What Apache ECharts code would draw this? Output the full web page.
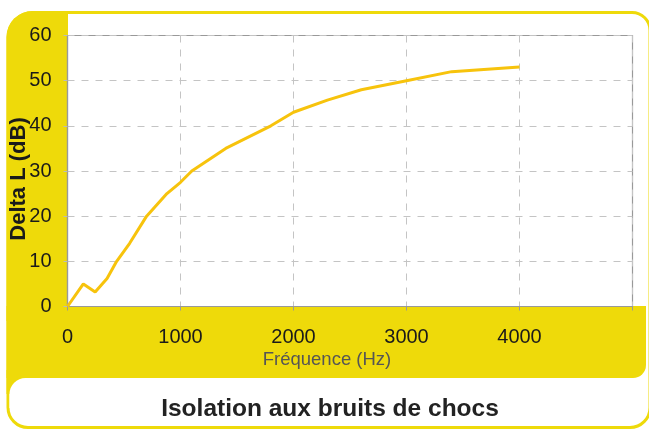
<!DOCTYPE html>
<html>
<head>
<meta charset="utf-8">
<script src="https://cdn.jsdelivr.net/npm/echarts@6/dist/echarts.min.js"></script>
<style>
html,body{margin:0;padding:0;background:#fff;}
#chart{width:649px;height:430px;}
</style>
</head>
<body>
<div id="chart"></div>
<script>
const frequencies = [0, 140, 245, 350, 435, 550, 700, 880, 1000, 1100, 1400, 1800, 2000, 2300, 2600, 3000, 3400, 4000];
const deltaL = [0, 5, 3.2, 6.2, 10, 14, 20, 25, 27.5, 30, 35, 40, 43, 45.7, 48, 50, 52, 53];
const xTicks = [0, 1000, 2000, 3000, 4000];
const titleText = 'Isolation aux bruits de chocs';
const xName = 'Fréquence (Hz)';
const yName = 'Delta L (dB)';

const YEL = '#EEDA0A';
const chart = echarts.init(document.getElementById('chart'));
const font = 'Liberation Sans, Arial, sans-serif';

chart.setOption({
  animation: false,
  backgroundColor: '#fff',
  graphic: [
    { type: 'rect', z: -10, shape: { x: 8, y: 12.5, width: 642, height: 415, r: [25, 18, 20, 20] },
      style: { fill: '#fff', stroke: YEL, lineWidth: 3 } },
    { type: 'rect', z: -9, shape: { x: 6.5, y: 11, width: 61.5, height: 310, r: [26, 0, 0, 0] },
      style: { fill: YEL } },
    { type: 'rect', z: -9, shape: { x: 6.5, y: 306, width: 639.5, height: 72, r: [0, 0, 13, 0] },
      style: { fill: YEL } },
    { type: 'rect', z: -9, shape: { x: 6.5, y: 370, width: 24, height: 24 },
      style: { fill: YEL } },
    { type: 'rect', z: -8, shape: { x: 9.5, y: 378, width: 40, height: 30, r: [16, 0, 0, 0] },
      style: { fill: '#fff' } },
    { type: 'rect', z: -8, shape: { x: 67.5, y: 35.5, width: 565, height: 271 },
      style: { fill: '#fff' } },
    { type: 'text', z: 10, x: 330, y: 409,
      style: { text: titleText, font: 'bold 24.5px ' + font, fill: '#222', textAlign: 'center', textVerticalAlign: 'middle' } }
  ],
  grid: { left: 67.5, right: 16.5, top: 35.5, bottom: 123.5, outerBoundsMode: 'none', containLabel: false,
    show: true, borderColor: '#999', borderWidth: 1.2, backgroundColor: 'transparent' },
  xAxis: {
    type: 'value', min: 0, max: 5000, interval: 1000,
    name: xName, nameLocation: 'middle', nameGap: 44, nameMoveOverlap: false,
    nameTextStyle: { color: '#555', fontSize: 18.5, fontFamily: font, padding: [0, 46, 0, 0] },
    axisLine: { show: true, lineStyle: { color: '#999', width: 1.2 } },
    axisTick: { show: true, length: 4, lineStyle: { color: '#999' } },
    axisLabel: { margin: 21, color: '#1a1a1a', fontSize: 20, fontFamily: font,
      formatter: v => xTicks.includes(v) ? String(v) : '' },
    splitLine: { show: true, lineStyle: { color: '#c4c4c4', type: [7, 7], width: 1 } }
  },
  yAxis: {
    type: 'value', min: 0, max: 60, interval: 10,
    name: yName, nameLocation: 'middle', nameGap: 38, nameRotate: 90, nameMoveOverlap: false,
    nameTextStyle: { color: '#1a1a1a', fontSize: 22, fontWeight: 'bold', fontFamily: font, padding: [0, 0, 0, -16] },
    axisLine: { show: true, lineStyle: { color: '#999', width: 1.2 } },
    axisTick: { show: true, length: 4, lineStyle: { color: '#bbb' } },
    axisLabel: { margin: 16, color: '#1a1a1a', fontSize: 20, fontFamily: font },
    splitLine: { show: true, lineStyle: { color: '#c4c4c4', type: [7, 7], width: 1 } }
  },
  series: [{
    type: 'line',
    data: frequencies.map((f, i) => [f, deltaL[i]]),
    showSymbol: false,
    smooth: false,
    lineStyle: { color: '#F7C30C', width: 3 },
    itemStyle: { color: '#F7C30C' }
  }]
});
</script>
</body>
</html>
